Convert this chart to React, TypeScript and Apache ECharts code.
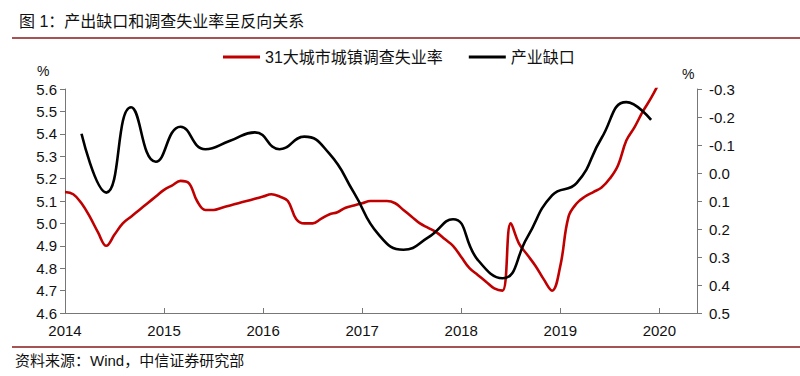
import React, { useEffect, useRef } from "react";
import * as echarts from "echarts";

// 31大城市城镇调查失业率 (%), monthly from 2014-01
const redStartYear = 2014;
const redStartMonth = 1;
const redValues = [
  5.14, 5.13, 5.09, 5.03, 4.96, 4.9, 4.95, 5.0, 5.03, 5.06, 5.09, 5.12,
  5.15, 5.17, 5.19, 5.18, 5.1, 5.06, 5.06, 5.07, 5.08, 5.09, 5.1, 5.11,
  5.12, 5.13, 5.12, 5.1, 5.02, 5.0, 5.0, 5.02, 5.04, 5.05, 5.07, 5.08,
  5.09, 5.1, 5.1, 5.1, 5.09, 5.06, 5.03, 5.0, 4.98, 4.96, 4.93, 4.9,
  4.85, 4.8, 4.77, 4.74, 4.71, 4.7, 5.0, 4.91, 4.86, 4.81, 4.75, 4.7,
  4.81, 5.03, 5.09, 5.12, 5.14, 5.16, 5.2, 5.26, 5.37, 5.43, 5.5, 5.56,
  5.63,
];

// 产业缺口 (%), quarterly from 2014-03
const blackStartYear = 2014;
const blackStartMonth = 3;
const blackValues = [
  -0.14, 0.07, -0.235, -0.04, -0.165, -0.085, -0.115, -0.145, -0.085, -0.13,
  -0.07, 0.07, 0.22, 0.274, 0.23, 0.165, 0.31, 0.376, 0.23, 0.08, 0.035,
  -0.125, -0.253, -0.19,
];

const xTickYears = [2014, 2015, 2016, 2017, 2018, 2019, 2020];
const leftTicks = [4.6, 4.7, 4.8, 4.9, 5.0, 5.1, 5.2, 5.3, 5.4, 5.5, 5.6];
const rightTicks = [-0.3, -0.2, -0.1, 0.0, 0.1, 0.2, 0.3, 0.4, 0.5];

const titleText = "图 1：产出缺口和调查失业率呈反向关系";
const sourceText = "资料来源：Wind，中信证券研究部";
const redName = "31大城市城镇调查失业率";
const blackName = "产业缺口";

const FONT = "'Liberation Sans', Arial, 'Noto Sans CJK SC', sans-serif";

function toSeries(startYear: number, startMonth: number, stepMonths: number, vals: number[]) {
  return vals.map((v, i) => {
    const m = startMonth - 1 + i * stepMonths;
    return [startYear + m / 12, v];
  });
}

export default function App() {
  const ref = useRef<HTMLDivElement>(null);
  useEffect(() => {
    if (!ref.current) return;
    const chart = echarts.init(ref.current, null, { renderer: "svg" });
    const lineColor = "#8B1A1A";
    chart.setOption({
      animation: false,
      backgroundColor: "#fff",
      textStyle: { fontFamily: FONT },
      title: {
        text: titleText,
        left: 14,
        top: 8,
        textStyle: { fontFamily: FONT, fontSize: 16, fontWeight: "normal", color: "#111" },
      },
      legend: {
        left: 218,
        top: 44,
        itemWidth: 37,
        itemHeight: 3,
        itemGap: 26,
        icon: "rect",
        textStyle: { fontFamily: FONT, fontSize: 16, color: "#111" },
        data: [redName, blackName],
      },
      grid: { left: 65, right: 103, top: 89, bottom: 63 },
      xAxis: {
        type: "value",
        min: xTickYears[0],
        max: 2020.38,
        interval: 1,
        axisLine: { onZero: false, lineStyle: { color: "#777", width: 1 } },
        axisTick: { inside: true, length: 5, lineStyle: { color: "#777" } },
        splitLine: { show: false },
        axisLabel: {
          fontSize: 15,
          color: "#111",
          margin: 10,
          showMaxLabel: false,
          formatter: (v: number) => (xTickYears.includes(Math.round(v)) && Math.abs(v - Math.round(v)) < 1e-6 ? String(Math.round(v)) : ""),
        },
      },
      yAxis: [
        {
          type: "value",
          min: leftTicks[0],
          max: leftTicks[leftTicks.length - 1],
          interval: 0.1,
          axisLine: { show: true, onZero: false, lineStyle: { color: "#777" } },
          axisTick: { show: true, inside: false, length: 5, lineStyle: { color: "#777" } },
          splitLine: { show: false },
          axisLabel: { fontSize: 15, color: "#111", margin: 8, formatter: (v: number) => v.toFixed(1) },
        },
        {
          type: "value",
          min: rightTicks[0],
          max: rightTicks[rightTicks.length - 1],
          interval: 0.1,
          inverse: true,
          position: "right",
          axisLine: { show: true, onZero: false, lineStyle: { color: "#777" } },
          axisTick: { show: true, inside: false, length: 5, lineStyle: { color: "#777" } },
          splitLine: { show: false },
          axisLabel: {
            fontSize: 15,
            color: "#111",
            margin: 12,
            formatter: (v: number) => (Math.abs(v) < 1e-9 ? "0.0" : v.toFixed(1)),
          },
        },
      ],
      series: [
        {
          name: redName,
          type: "line",
          yAxisIndex: 0,
          data: toSeries(redStartYear, redStartMonth, 1, redValues),
          smooth: 0.4,
          showSymbol: false,
          clip: true,
          itemStyle: { color: "#C00000" },
          lineStyle: { color: "#C00000", width: 2.6 },
        },
        {
          name: blackName,
          type: "line",
          yAxisIndex: 1,
          data: toSeries(blackStartYear, blackStartMonth, 3, blackValues),
          smooth: 0.5,
          showSymbol: false,
          itemStyle: { color: "#000" },
          lineStyle: { color: "#000", width: 2.6 },
        },
      ],
      graphic: [
        { type: "line", shape: { x1: 12, y1: 38, x2: 800, y2: 38 }, style: { stroke: lineColor, lineWidth: 1.5 } },
        { type: "line", shape: { x1: 12, y1: 347, x2: 800, y2: 347 }, style: { stroke: lineColor, lineWidth: 1.5 } },
        { type: "text", x: 37, y: 64, style: { text: "%", font: `14px ${FONT}`, fill: "#111" } },
        { type: "text", x: 682, y: 67, style: { text: "%", font: `14px ${FONT}`, fill: "#111" } },
        { type: "text", x: 15, y: 353, style: { text: sourceText, font: `15px ${FONT}`, fill: "#111" } },
      ],
    });
    return () => chart.dispose();
  }, []);
  return <div ref={ref} style={{ width: 800, height: 376, position: "absolute", left: 0, top: 0 }} />;
}
